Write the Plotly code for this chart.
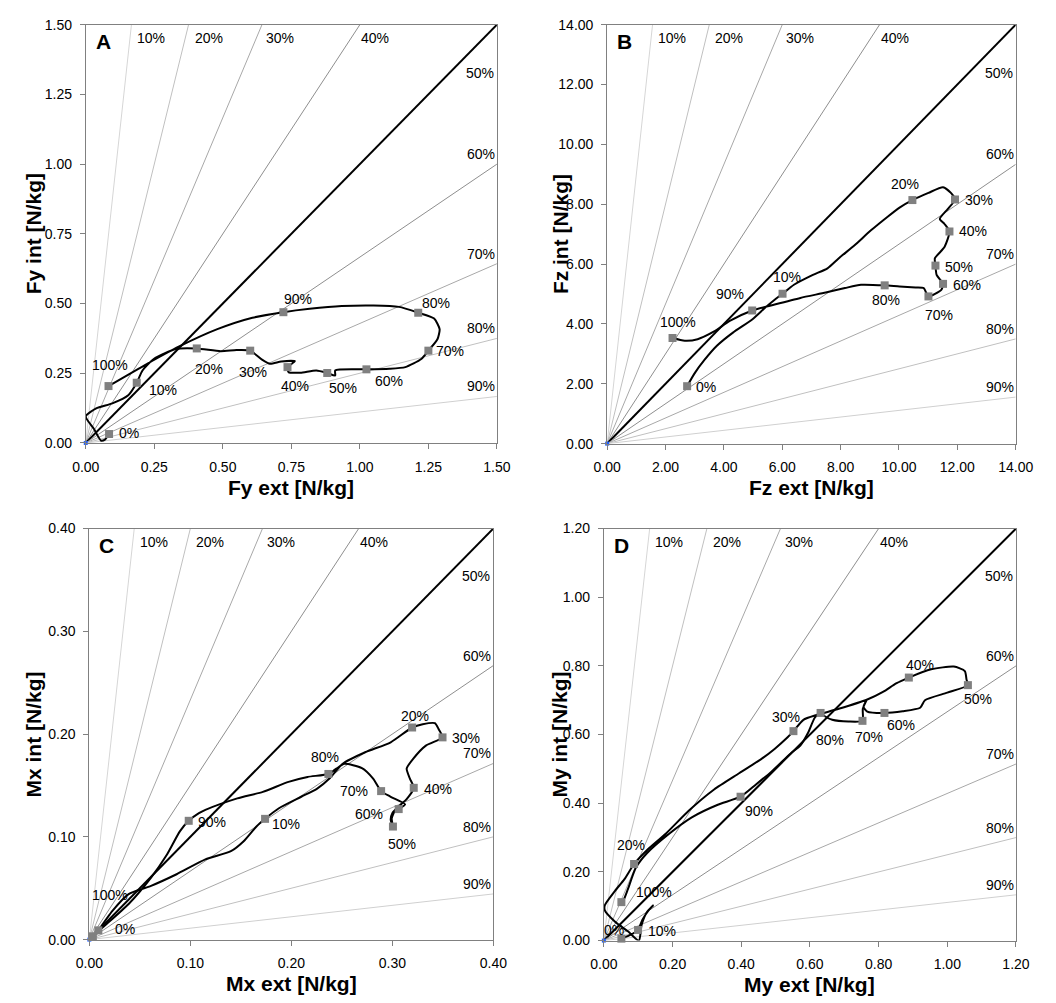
import plotly.graph_objects as go

W, H = 1056, 1003

# ---------------- data ----------------
ray_pcts = [10, 20, 30, 40, 50, 60, 70, 80, 90]
ray_labels = ["10%", "20%", "30%", "40%", "50%", "60%", "70%", "80%", "90%"]
phase_labels = ["0%", "10%", "20%", "30%", "40%", "50%", "60%", "70%", "80%", "90%", "100%"]

# Panel A : Fy
a_max = 1.5
a_ticks = [0.0, 0.25, 0.5, 0.75, 1.0, 1.25, 1.5]
a_marker_x = [0.085, 0.186, 0.405, 0.600, 0.736, 0.881, 1.024, 1.250, 1.213, 0.721, 0.083]
a_marker_y = [0.032, 0.216, 0.339, 0.331, 0.272, 0.251, 0.264, 0.331, 0.467, 0.469, 0.204]
a_path_x = [0.085, 0.070, 0.056, 0.030, 0.000, 0.038, 0.097, 0.155, 0.186, 0.207, 0.248, 0.329,
            0.405, 0.492, 0.550, 0.600, 0.643, 0.672, 0.713, 0.763, 0.736, 0.740, 0.783, 0.841,
            0.881, 0.910, 0.910, 0.992, 1.024, 1.108, 1.166, 1.224, 1.250, 1.283, 1.291, 1.271,
            1.213, 1.143, 1.050, 0.934, 0.817, 0.721, 0.608, 0.480, 0.341, 0.224, 0.083]
a_path_y = [0.032, 0.012, 0.008, 0.050, 0.095, 0.124, 0.142, 0.171, 0.216, 0.260, 0.301, 0.337,
            0.339, 0.329, 0.333, 0.331, 0.299, 0.284, 0.292, 0.293, 0.272, 0.254, 0.252, 0.260,
            0.251, 0.242, 0.260, 0.264, 0.264, 0.266, 0.272, 0.301, 0.331, 0.372, 0.408, 0.446,
            0.467, 0.488, 0.493, 0.491, 0.481, 0.469, 0.449, 0.408, 0.346, 0.284, 0.204]

# Panel B : Fz
b_max = 14.0
b_ticks = [0, 2, 4, 6, 8, 10, 12, 14]
b_marker_x = [2.74, 6.01, 10.46, 11.92, 11.73, 11.25, 11.51, 11.01, 9.51, 4.97, 2.24]
b_marker_y = [1.92, 5.01, 8.14, 8.16, 7.09, 5.95, 5.34, 4.92, 5.29, 4.45, 3.53]
b_path_x = [2.74, 2.99, 3.32, 3.76, 4.31, 4.97, 5.41, 5.74, 6.01, 6.40, 7.05, 7.55, 7.93, 8.48,
            9.03, 9.58, 10.02, 10.46, 11.01, 11.51, 11.78, 11.92, 11.67, 11.40, 11.56, 11.73,
            11.56, 11.23, 11.25, 11.29, 11.51, 11.45, 11.01, 10.85, 10.57, 10.02, 9.51, 8.70,
            8.15, 7.49, 6.62, 5.74, 4.97, 4.20, 3.65, 3.10, 2.66, 2.24]
b_path_y = [1.92, 2.34, 2.78, 3.27, 3.71, 4.15, 4.54, 4.81, 5.01, 5.31, 5.64, 5.86, 6.19, 6.63,
            7.12, 7.56, 7.89, 8.14, 8.38, 8.57, 8.38, 8.16, 7.84, 7.51, 7.34, 7.09,
            6.57, 6.19, 5.95, 5.64, 5.34, 5.14, 4.92, 5.20, 5.22, 5.25, 5.29, 5.31,
            5.20, 5.05, 4.87, 4.65, 4.45, 4.10, 3.74, 3.49, 3.44, 3.53]

# Panel C : Mx
c_max = 0.4
c_ticks = [0.0, 0.1, 0.2, 0.3, 0.4]
c_marker_x = [0.0089, 0.174, 0.3196, 0.3497, 0.3212, 0.3006, 0.3063, 0.2889, 0.2367, 0.0984, 0.0035]
c_marker_y = [0.009, 0.1175, 0.2064, 0.1968, 0.1477, 0.110, 0.127, 0.1445, 0.1612, 0.1156, 0.0032]
c_path_x = [0.0089, 0.0231, 0.0389, 0.0611, 0.0864, 0.1149, 0.1402, 0.1528, 0.1655, 0.174,
            0.1877, 0.2098, 0.2256, 0.2383, 0.2509, 0.2731, 0.2984, 0.3196, 0.3301, 0.3421,
            0.3459, 0.3497, 0.3332, 0.3206, 0.3142, 0.3174, 0.3212, 0.3142, 0.3079, 0.300,
            0.2984, 0.3006, 0.2994, 0.3022, 0.3063, 0.3127, 0.2984, 0.2889, 0.281, 0.2699,
            0.2525, 0.2446, 0.2367, 0.2161, 0.1972, 0.1718, 0.1465, 0.1149, 0.1085, 0.0984,
            0.0896, 0.0769, 0.0611, 0.0389, 0.0136, 0.0035]
c_path_y = [0.009, 0.0283, 0.0443, 0.0523, 0.0636, 0.078, 0.086, 0.0957, 0.1101, 0.1175,
            0.1278, 0.139, 0.147, 0.1573, 0.1711, 0.1823, 0.192, 0.2064, 0.2096, 0.2106,
            0.2048, 0.1968, 0.1888, 0.1759, 0.1663, 0.1567, 0.1477, 0.1368, 0.131, 0.123,
            0.1165, 0.110, 0.118, 0.1246, 0.127, 0.1316, 0.139, 0.1445, 0.1567, 0.1669,
            0.1711, 0.1663, 0.1612, 0.1583, 0.1535, 0.1438, 0.1374, 0.1262, 0.123, 0.1156,
            0.1053, 0.0828, 0.0604, 0.0347, 0.0122, 0.0032]

# Panel D : My
d_max = 1.2
d_ticks = [0.0, 0.2, 0.4, 0.6, 0.8, 1.0, 1.2]
d_marker_x = [0.051, 0.0995, 0.088, 0.552, 0.888, 1.060, 0.817, 0.753, 0.631, 0.398, 0.051]
d_marker_y = [0.0057, 0.031, 0.223, 0.610, 0.766, 0.744, 0.663, 0.640, 0.663, 0.419, 0.112]
d_path_x = [0.051, 0.079, 0.0995, 0.112, 0.130, 0.144, 0.126, 0.110, 0.102, 0.070, 0.0326,
            0.0028, 0.0028, 0.0326, 0.060, 0.088, 0.126, 0.181, 0.247, 0.321, 0.395, 0.460,
            0.498, 0.535, 0.552, 0.581, 0.619, 0.684, 0.767, 0.814, 0.851, 0.888, 0.953, 1.019,
            1.051, 1.056, 1.060, 1.000, 0.935, 0.921, 0.870, 0.817, 0.767, 0.756, 0.766, 0.754,
            0.753, 0.712, 0.665, 0.642, 0.631, 0.614, 0.595, 0.572, 0.544, 0.488, 0.442, 0.398,
            0.330, 0.256, 0.191, 0.126, 0.093, 0.070, 0.059, 0.051]
d_path_y = [0.0057, 0.017, 0.031, 0.060, 0.088, 0.103, 0.084, 0.046, 0.000, 0.027, 0.055,
            0.088, 0.103, 0.145, 0.179, 0.223, 0.264, 0.312, 0.378, 0.440, 0.488, 0.530,
            0.559, 0.592, 0.610, 0.643, 0.657, 0.675, 0.702, 0.725, 0.749, 0.766, 0.790, 0.798,
            0.785, 0.760, 0.744, 0.722, 0.700, 0.678, 0.668, 0.663, 0.667, 0.681, 0.702, 0.675,
            0.640, 0.638, 0.643, 0.654, 0.663, 0.649, 0.606, 0.568, 0.545, 0.492, 0.454, 0.419,
            0.395, 0.359, 0.312, 0.255, 0.212, 0.150, 0.122, 0.112]

# ---------------- styles / positions ----------------
FONT = "Liberation Sans, Arial, sans-serif"
FS = 14
ray_colors = {10: "#d6d6d6", 20: "#c0c0c0", 30: "#a8a8a8", 40: "#8e8e8e",
              60: "#8e8e8e", 70: "#a8a8a8", 80: "#c0c0c0", 90: "#d0d0d0"}
top_label_frac = {10: 0.12, 20: 0.26, 30: 0.434, 40: 0.665}

# label pixel offsets (dx right, dy down) relative to marker
a_off = [(20, -1), (26, 7), (12, 21), (3, 21), (8, 19), (16, 15), (23, 12), (22, 0), (18, -10), (15, -13), (1, -21)]
b_off = [(19, 1), (4, -17), (-7, -16), (24, 1), (24, 0), (24, 1), (24, 1), (11, 19), (1, 15), (-22, -16), (5, -16)]
c_off = [(27, -1), (21, 5), (3, -12), (23, 1), (24, 1), (9, 17), (-30, 5), (-27, 0), (-3, -17), (23, 1), (17, -41)]
d_off = [(-7, -9), (24, 1), (-3, -19), (-7, -14), (11, -13), (10, 14), (17, 12), (7, 16), (9, 27), (18, 14), (33, -10)]

panels = [
    dict(letter="A", xt="Fy ext [N/kg]", yt="Fy int [N/kg]", mx=a_max, ticks=a_ticks,
         px=(74, 498), py=(17, 442), mkx=a_marker_x, mky=a_marker_y, pathx=a_path_x, pathy=a_path_y,
         off=a_off, ytx=20),
    dict(letter="B", xt="Fz ext [N/kg]", yt="Fz int [N/kg]", mx=b_max, ticks=b_ticks,
         px=(611.7, 1033), py=(17, 442.7), mkx=b_marker_x, mky=b_marker_y, pathx=b_path_x, pathy=b_path_y,
         off=b_off, ytx=563),
    dict(letter="C", xt="Mx ext [N/kg]", yt="Mx int [N/kg]", mx=c_max, ticks=c_ticks,
         px=(77.7, 494.3), py=(529, 946.7), mkx=c_marker_x, mky=c_marker_y, pathx=c_path_x, pathy=c_path_y,
         off=c_off, ytx=20),
    dict(letter="D", xt="My ext [N/kg]", yt="My int [N/kg]", mx=d_max, ticks=d_ticks,
         px=(608.3, 1033.3), py=(529, 947.7), mkx=d_marker_x, mky=d_marker_y, pathx=d_path_x, pathy=d_path_y,
         off=d_off, ytx=563),
]

fig = go.Figure()
annotations = []
layout_axes = {}

for i, p in enumerate(panels):
    n = "" if i == 0 else str(i + 1)
    xa, ya = "x" + n, "y" + n
    mx = p["mx"]
    # ray lines
    for pct in ray_pcts:
        r = (100 - pct) / pct
        if r >= 1:
            ex, ey = mx / r, mx
        else:
            ex, ey = mx, mx * r
        if pct == 50:
            col, w = "black", 2
        else:
            col, w = ray_colors[pct], 1
        fig.add_trace(go.Scatter(x=[0, ex], y=[0, ey], mode="lines", xaxis=xa, yaxis=ya,
                                 line=dict(color=col, width=w), hoverinfo="skip", showlegend=False))
    # origin blue mark
    fig.add_trace(go.Scatter(x=[0], y=[0], mode="markers", xaxis=xa, yaxis=ya, cliponaxis=False,
                             marker=dict(color="#1f5fff", size=4, symbol="square"), showlegend=False))
    # data path
    fig.add_trace(go.Scatter(x=p["pathx"], y=p["pathy"], mode="lines", xaxis=xa, yaxis=ya,
                             line=dict(color="black", width=2, shape="spline", smoothing=0.6),
                             showlegend=False))
    # markers
    fig.add_trace(go.Scatter(x=p["mkx"], y=p["mky"], mode="markers", xaxis=xa, yaxis=ya, cliponaxis=False,
                             marker=dict(color="#808080", size=8, symbol="square"), showlegend=False))
    for k, lab in enumerate(phase_labels):
        dx, dy = p["off"][k]
        annotations.append(dict(x=p["mkx"][k], y=p["mky"][k], xref=xa, yref=ya, text=lab,
                                showarrow=False, xshift=dx, yshift=-dy,
                                font=dict(family=FONT, size=FS, color="black")))
    # ray labels
    for pct, lab in zip(ray_pcts, ray_labels):
        r = (100 - pct) / pct
        if pct < 50:
            annotations.append(dict(x=top_label_frac[pct] * mx, y=mx, xref=xa, yref=ya, text=lab,
                                    showarrow=False, xanchor="left", yanchor="top", yshift=-3,
                                    font=dict(family=FONT, size=FS, color="black")))
        elif pct == 50:
            annotations.append(dict(x=mx, y=0.885 * mx, xref=xa, yref=ya, text=lab,
                                    showarrow=False, xanchor="right", yanchor="middle", xshift=-1,
                                    font=dict(family=FONT, size=FS, color="black")))
        else:
            annotations.append(dict(x=mx, y=mx * r, xref=xa, yref=ya, text=lab,
                                    showarrow=False, xanchor="right", yanchor="bottom", yshift=0,
                                    font=dict(family=FONT, size=FS, color="black")))
    # axes
    x0, x1 = p["px"]
    y0, y1 = p["py"]
    axcommon = dict(range=[0, mx], showgrid=False, zeroline=False, showline=True, linecolor="#808080",
                    linewidth=1, mirror=True, ticks="outside", ticklen=5, tickcolor="#808080",
                    tickvals=p["ticks"], tickformat=".2f",
                    tickfont=dict(family=FONT, size=FS, color="black"))
    layout_axes["xaxis" + n] = dict(axcommon, domain=[x0 / W, x1 / W], anchor=ya, ticklabelstandoff=6)
    layout_axes["yaxis" + n] = dict(axcommon, domain=[1 - y1 / H, 1 - y0 / H], anchor=xa, ticklabelstandoff=5)
    # axis titles
    annotations.append(dict(x=(x0 + x1) / 2 / W, y=1 - (y1 + 45) / H, xref="paper", yref="paper",
                            text=p["xt"], showarrow=False, xanchor="center", yanchor="middle",
                            font=dict(family=FONT, size=21, color="black", weight="bold")))
    annotations.append(dict(x=p["ytx"] / W, y=1 - (y0 + y1) / 2 / H, xref="paper", yref="paper",
                            text=p["yt"], showarrow=False, xanchor="center", yanchor="middle", textangle=-90,
                            font=dict(family=FONT, size=21, color="black", weight="bold")))
    # panel letter
    annotations.append(dict(x=(x0 + 8) / W, y=1 - (y0 + 17.5) / H, xref="paper", yref="paper",
                            text=p["letter"], showarrow=False, xanchor="left", yanchor="middle",
                            font=dict(family=FONT, size=21, color="black", weight="bold")))

fig.update_layout(width=W, height=H, margin=dict(l=0, r=0, t=0, b=0),
                  paper_bgcolor="white", plot_bgcolor="white", showlegend=False,
                  annotations=annotations, **layout_axes)

fig.write_html("out.html", config={"displayModeBar": False},
               post_script="document.body.style.margin='0px';document.body.style.overflow='hidden';")
